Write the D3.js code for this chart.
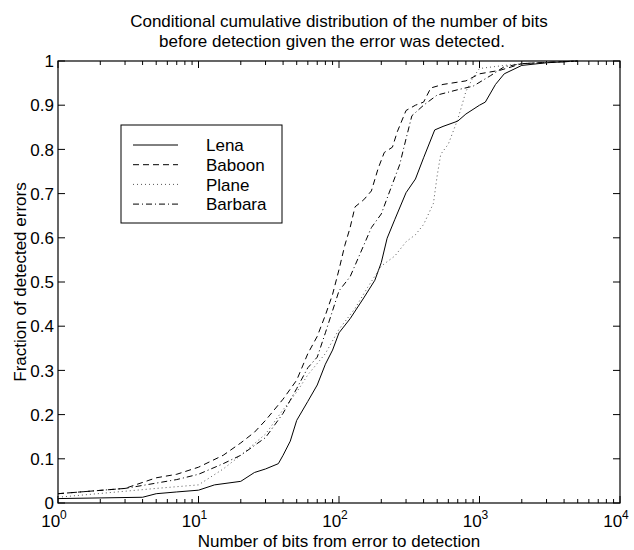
<!DOCTYPE html>
<html>
<head>
<meta charset="utf-8">
<script src="https://cdn.jsdelivr.net/npm/d3@7"></script>
<style>
  body { margin: 0; background: #fff; }
  svg { display: block; font-family: "Liberation Sans", Arial, sans-serif; }
</style>
</head>
<body>
<div id="chart"></div>
<script>
// Curve data (bits from error to detection, fraction detected)
const lenaBits = [1, 4, 5, 7, 10, 13, 20, 25, 30, 37, 40, 45, 50, 60, 70, 80, 90, 100, 120, 150, 180, 200, 220, 250, 300, 350, 400, 480, 550, 700, 800, 1000, 1100, 1300, 1500, 2000, 3000, 5000];
const lenaFrac = [0.01, 0.013, 0.021, 0.025, 0.029, 0.041, 0.049, 0.069, 0.077, 0.089, 0.108, 0.14, 0.187, 0.23, 0.267, 0.314, 0.346, 0.385, 0.417, 0.464, 0.504, 0.544, 0.599, 0.642, 0.702, 0.733, 0.781, 0.844, 0.852, 0.864, 0.88, 0.9, 0.907, 0.947, 0.971, 0.99, 0.996, 1.0];

const baboonBits = [1, 3, 5, 7, 10, 15, 20, 25, 30, 40, 50, 60, 70, 80, 90, 100, 110, 120, 130, 150, 170, 190, 210, 240, 260, 300, 350, 400, 450, 550, 800, 1000, 1400, 1700, 2000, 5000];
const baboonFrac = [0.021, 0.033, 0.057, 0.065, 0.081, 0.108, 0.136, 0.16, 0.187, 0.235, 0.278, 0.338, 0.377, 0.425, 0.472, 0.528, 0.583, 0.623, 0.67, 0.686, 0.706, 0.757, 0.793, 0.805, 0.84, 0.888, 0.9, 0.907, 0.939, 0.947, 0.955, 0.971, 0.979, 0.987, 0.994, 1.0];

const planeBits = [1, 5, 10, 15, 20, 30, 40, 50, 60, 80, 100, 130, 160, 200, 250, 300, 350, 400, 470, 500, 530, 600, 700, 750, 800, 900, 1000, 1500, 2000, 5000];
const planeFrac = [0.013, 0.033, 0.041, 0.077, 0.108, 0.156, 0.211, 0.251, 0.29, 0.338, 0.393, 0.44, 0.488, 0.536, 0.559, 0.591, 0.607, 0.63, 0.678, 0.741, 0.789, 0.812, 0.868, 0.9, 0.931, 0.963, 0.983, 0.99, 0.994, 1.0];

const barbaraBits = [1, 3, 5, 7, 10, 15, 20, 30, 40, 50, 60, 70, 80, 100, 120, 150, 170, 200, 230, 270, 300, 330, 400, 500, 700, 900, 1200, 1500, 2000, 5000];
const barbaraFrac = [0.021, 0.033, 0.045, 0.053, 0.065, 0.089, 0.108, 0.148, 0.203, 0.259, 0.306, 0.33, 0.385, 0.48, 0.512, 0.583, 0.623, 0.654, 0.706, 0.765, 0.824, 0.876, 0.9, 0.923, 0.935, 0.943, 0.967, 0.987, 0.994, 1.0];

const seriesNames = ['Lena', 'Baboon', 'Plane', 'Barbara'];
const xDecades = [0, 1, 2, 3, 4];
const yTicks = [0, 0.1, 0.2, 0.3, 0.4, 0.5, 0.6, 0.7, 0.8, 0.9, 1];

const titleLines = [
  'Conditional cumulative distribution of the number of bits',
  'before detection given the error was detected.'
];

const width = 634, height = 550;
const margin = { top: 61, right: 14, bottom: 47, left: 58 };
const innerW = width - margin.left - margin.right;
const innerH = height - margin.top - margin.bottom;
const fontSize = 17;

// line styles per series (solid, dashed, dotted, dash-dot)
const dashes = ['none', '6,4', '1,3', '6,3,1,3'];
const strokes = ['#000', '#000', '#555', '#000'];

const series = [
  { name: seriesNames[0], bits: lenaBits, frac: lenaFrac },
  { name: seriesNames[1], bits: baboonBits, frac: baboonFrac },
  { name: seriesNames[2], bits: planeBits, frac: planeFrac },
  { name: seriesNames[3], bits: barbaraBits, frac: barbaraFrac }
];

const svg = d3.select('#chart')
  .append('svg')
  .attr('width', width)
  .attr('height', height);

const g = svg.append('g')
  .attr('transform', `translate(${margin.left},${margin.top})`);

const x = d3.scaleLog().domain([1, 1e4]).range([0, innerW]);
const y = d3.scaleLinear().domain([0, 1]).range([innerH, 0]);

// frame
g.append('rect')
  .attr('width', innerW)
  .attr('height', innerH)
  .attr('fill', 'none')
  .attr('stroke', '#000')
  .attr('stroke-width', 1.2);

// ticks (inward, on all four sides)
const majorLen = 7, minorLen = 4;
const minorTicks = [];
xDecades.slice(0, -1).forEach(d => {
  for (let k = 2; k <= 9; k++) minorTicks.push(k * Math.pow(10, d));
});
const majorX = xDecades.map(d => Math.pow(10, d));

const tickG = g.append('g').attr('stroke', '#000').attr('stroke-width', 1);
[[majorX, majorLen], [minorTicks, minorLen]].forEach(([vals, len]) => {
  tickG.selectAll(null).data(vals).enter().append('line')
    .attr('x1', d => x(d)).attr('x2', d => x(d))
    .attr('y1', innerH).attr('y2', innerH - len);
  tickG.selectAll(null).data(vals).enter().append('line')
    .attr('x1', d => x(d)).attr('x2', d => x(d))
    .attr('y1', 0).attr('y2', len);
});
tickG.selectAll(null).data(yTicks).enter().append('line')
  .attr('x1', 0).attr('x2', majorLen)
  .attr('y1', d => y(d)).attr('y2', d => y(d));
tickG.selectAll(null).data(yTicks).enter().append('line')
  .attr('x1', innerW).attr('x2', innerW - majorLen)
  .attr('y1', d => y(d)).attr('y2', d => y(d));

// y tick labels
g.append('g').selectAll('text').data(yTicks).enter().append('text')
  .attr('x', -4)
  .attr('y', d => y(d))
  .attr('dy', '0.36em')
  .attr('text-anchor', 'end')
  .attr('font-size', fontSize)
  .text(d => d === 0 || d === 1 ? d3.format('d')(d) : d3.format('.1f')(d));

// x tick labels as 10^n
const xl = g.append('g').selectAll('text').data(xDecades).enter().append('text')
  .attr('x', d => x(Math.pow(10, d)) - 4)
  .attr('y', innerH + 24)
  .attr('text-anchor', 'middle')
  .attr('font-size', fontSize);
xl.append('tspan').text('10');
xl.append('tspan')
  .attr('dy', -8)
  .attr('font-size', 12)
  .text(d => d);

// curves
const line = d3.line()
  .x(d => x(d[0]))
  .y(d => y(d[1]));

g.append('g').selectAll('path').data(series).enter().append('path')
  .attr('d', s => line(d3.zip(s.bits, s.frac)))
  .attr('fill', 'none')
  .attr('stroke', (s, i) => strokes[i])
  .attr('stroke-width', 1)
  .attr('stroke-dasharray', (s, i) => dashes[i]);

// legend
const legend = svg.append('g').attr('transform', 'translate(121,125)');
legend.append('rect')
  .attr('width', 161)
  .attr('height', 98)
  .attr('fill', '#fff')
  .attr('stroke', '#000')
  .attr('stroke-width', 1);
const rows = legend.selectAll('g.row').data(series).enter().append('g')
  .attr('class', 'row')
  .attr('transform', (s, i) => `translate(0,${20 + i * 19.7})`);
rows.append('line')
  .attr('x1', 12).attr('x2', 57)
  .attr('stroke', (s, i) => strokes[i])
  .attr('stroke-width', 1)
  .attr('stroke-dasharray', (s, i) => dashes[i]);
rows.append('text')
  .attr('x', 85)
  .attr('dy', '0.36em')
  .attr('font-size', fontSize)
  .text(s => s.name);

// title (second line sits a little left of centre in the original)
svg.append('g').selectAll('text').data(titleLines).enter().append('text')
  .attr('x', (d, i) => margin.left + innerW / 2 - i * 7)
  .attr('y', (d, i) => 27 + i * 20)
  .attr('text-anchor', 'middle')
  .attr('font-size', fontSize)
  .text(d => d);

// axis labels
svg.append('text')
  .attr('x', margin.left + innerW / 2)
  .attr('y', 546.5)
  .attr('text-anchor', 'middle')
  .attr('font-size', fontSize)
  .text('Number of bits from error to detection');

svg.append('text')
  .attr('transform', `translate(26,${margin.top + innerH / 2}) rotate(-90)`)
  .attr('text-anchor', 'middle')
  .attr('font-size', fontSize)
  .text('Fraction of detected errors');
</script>
</body>
</html>
